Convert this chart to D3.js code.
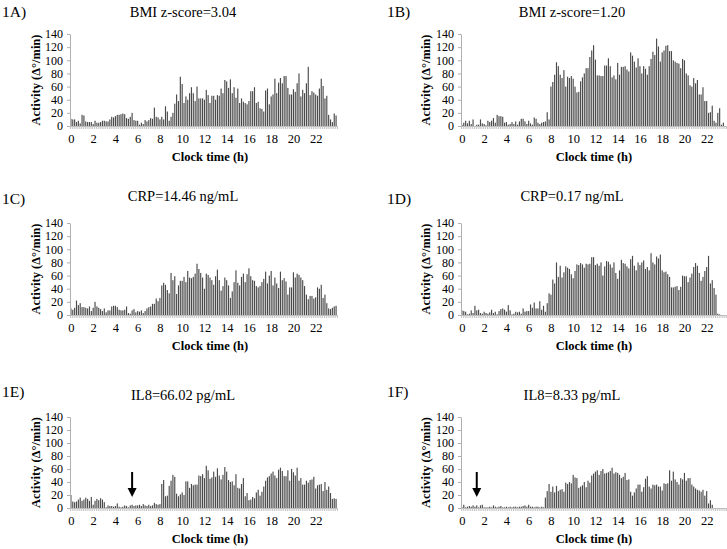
<!DOCTYPE html>
<html><head><meta charset="utf-8">
<script src="https://cdn.jsdelivr.net/npm/d3@7"></script>
<style>
html,body{margin:0;padding:0;background:#fff;}
svg{display:block;font-family:"Liberation Serif","Times New Roman",serif;}
</style></head>
<body>
<script>
// ---- data (10-minute bins, 144 per day) ----
const hourLabels = ["0","2","4","6","8","10","12","14","16","18","20","22"];
const yTicks = [0,20,40,60,80,100,120,140];
const panelLabels = ["1A)","1B)","1C)","1D)","1E)","1F)"];
const panelTitles = ["BMI z-score=3.04","BMI z-score=1.20","CRP=14.46 ng/mL","CRP=0.17 ng/mL","IL8=66.02 pg/mL","IL8=8.33 pg/mL"];
const yTitle = "Activity (\u0394\u00B0/min)";
const xTitle = "Clock time (h)";

const activityA = [
 11,10,10,6,8,4, 17,16,7,6,6,6, 3,8,5,5,6,8, 8,7,7,10,14,13,
 15,17,17,18,19,18, 12,11,14,20,9,8, 8,2,5,3,9,7, 9,12,11,28,14,13,
 10,14,10,30,22,8, 14,20,34,48,38,75, 64,35,45,40,50,59, 50,38,60,42,42,42,
 40,55,47,35,46,46, 40,47,46,57,50,70, 68,58,71,50,59,43, 57,35,42,37,35,33,
 38,53,53,59,35,37, 27,26,22,54,57,33, 45,48,72,50,66,73, 65,76,76,58,48,48,
 56,52,65,80,45,55, 50,65,90,47,53,51, 48,46,57,72,61,42, 46,17,10,6,19,16
];
const activityB = [
 2,5,8,4,8,3, 10,0,2,2,10,4, 3,1,8,6,8,12, 5,17,15,15,14,5,
 6,2,3,6,3,7, 2,7,11,11,7,3, 8,4,2,13,11,5, 3,5,6,7,21,10,
 60,67,78,97,91,78, 73,85,60,75,73,76, 72,60,51,52,68,74, 80,88,88,105,115,123,
 101,77,77,76,76,92, 92,103,91,74,77,71, 96,78,90,90,91,86, 83,112,107,98,89,103,
 91,80,91,87,78,91, 102,113,108,133,121,98, 112,115,122,123,114,114, 100,98,96,95,88,102,
 100,80,77,62,60,73, 65,70,48,48,59,38, 38,20,21,31,8,5, 20,27,2,5,0,0
];
const activityC = [
 10,8,11,22,15,18, 12,12,11,10,13,6, 11,20,13,11,9,6, 10,4,7,7,13,14,
 14,12,8,7,7,8, 13,3,2,7,9,4, 6,5,7,3,6,10, 12,13,17,17,25,21,
 26,45,49,46,38,33, 64,53,59,32,45,52, 52,58,50,67,57,56, 58,63,78,70,64,57,
 40,63,61,57,53,46, 59,69,53,37,44,57, 53,45,26,36,50,68, 49,45,58,63,50,62,
 71,59,53,52,44,42, 44,50,55,66,48,60, 67,45,57,48,41,66, 53,56,51,31,42,42,
 65,57,63,61,57,53, 44,31,24,29,29,25, 27,42,40,46,26,31, 18,10,9,11,13,14
];
const activityD = [
 7,6,5,1,2,7, 3,14,7,8,3,2, 5,3,2,4,8,3, 5,1,6,9,10,8,
 5,15,7,1,2,5, 4,5,2,10,5,6, 6,16,11,19,10,10, 21,8,14,5,18,33,
 31,54,48,80,58,75, 57,65,74,72,70,62, 56,67,77,76,79,77, 72,78,77,78,88,88,
 76,78,75,80,60,74, 82,81,77,72,80,64, 55,68,84,79,78,74, 71,85,90,75,68,80,
 76,80,83,70,73,68, 94,80,77,89,86,92, 68,65,66,62,58,42, 42,43,44,38,43,60,
 59,59,50,57,63,73, 79,75,64,52,58,67, 73,90,48,53,41,31, 2,1,0,0,0,0
];
const activityE = [
 20,10,9,10,13,16, 11,13,16,14,11,17, 5,11,14,12,15,13, 9,1,4,3,3,2,
 3,7,2,1,2,4, 3,1,4,5,3,4, 4,5,3,6,4,3, 5,3,4,8,6,5,
 6,37,43,18,19,34, 42,51,48,22,18,21, 24,20,41,41,31,37, 35,36,36,50,49,52,
 46,65,58,45,47,56, 48,61,50,44,51,63, 56,43,40,41,35,52, 31,30,37,46,18,23,
 12,13,17,15,24,28, 19,25,33,42,47,49, 53,56,50,46,59,62, 57,49,49,58,42,60,
 55,50,62,42,46,36, 36,42,39,43,44,48, 30,35,36,37,26,40, 28,33,23,14,15,14
];
const activityF = [
 1,5,1,2,3,2, 4,2,4,1,4,5, 1,1,1,2,1,4, 2,1,2,3,1,1,
 2,1,2,1,2,2, 1,2,2,3,4,2, 5,2,2,1,2,2, 1,2,1,16,26,37,
 25,33,24,34,26,28, 29,25,39,37,40,38, 51,47,46,31,33,35, 40,32,42,39,50,53,
 56,58,51,57,60,53, 54,55,57,62,53,55, 54,51,46,48,54,43, 44,25,19,24,30,36,
 36,25,32,45,49,33, 30,36,35,36,33,33, 27,38,37,38,58,42, 56,44,40,36,46,44,
 54,42,46,46,36,33, 30,28,27,25,28,19, 26,7,12,5,0,0, 0,0,0,0,0,0
];
const series = [activityA, activityB, activityC, activityD, activityE, activityF];
// bin index marked by an arrow (panels E and F only)
const arrowBins = [null, null, null, null, 33, 8];

// ---- layout ----
const W = 727, H = 549;
const colX0 = [70, 461], plotW = 267;
const rowY0 = [126, 315, 508], rowYTop = [34, 223, 417];
const labelBase = [17, 204, 397];
const titleBase = [17, 201, 400];
const titleCx = [183, 572];
const xTitleCx = [210, 594];
const yTitleCx = [36, 426];
const labelX = [2, 387];

const svg = d3.select("body").append("svg").attr("width", W).attr("height", H);
svg.append("rect").attr("width", W).attr("height", H).attr("fill", "#fff");

series.forEach((vals, p) => {
  const col = p % 2, row = Math.floor(p / 2);
  const x0 = colX0[col], y0 = rowY0[row], yT = rowYTop[row];
  const n = vals.length;
  const x = d3.scaleLinear().domain([0, n]).range([x0, x0 + plotW]);
  const y = d3.scaleLinear().domain([0, 140]).range([y0, yT]);
  const g = svg.append("g");
  const step = plotW / n, bw = step * 0.62;

  // bars
  g.append("g").selectAll("rect").data(vals).join("rect")
    .attr("x", (d, i) => x(i + 0.5) - bw / 2)
    .attr("y", d => y(d))
    .attr("width", bw)
    .attr("height", d => y(0) - y(d))
    .attr("fill", "#4a4a4a");

  // y axis
  const ya = g.append("g").attr("transform", `translate(${x0},0)`)
    .call(d3.axisLeft(y).tickValues(yTicks).tickSize(3).tickPadding(4).tickSizeOuter(0));
  ya.select(".domain").attr("stroke", "#b0b0b0");
  ya.selectAll(".tick line").attr("stroke", "#b0b0b0");
  ya.selectAll("text").attr("font-size", "12px").attr("fill", "#000")
    .attr("font-family", "'Liberation Serif','Times New Roman',serif");

  // x axis: minor category ticks
  const xm = g.append("g").attr("transform", `translate(0,${y0})`)
    .call(d3.axisBottom(x).tickValues(d3.range(0, n + 1)).tickSize(3).tickFormat("").tickSizeOuter(0));
  xm.select(".domain").attr("stroke", "#b8b8b8");
  xm.selectAll(".tick line").attr("stroke", "#c4c4c4");

  // x axis: hour labels
  const xl = g.append("g").attr("transform", `translate(0,${y0})`)
    .call(d3.axisBottom(x).tickValues(hourLabels.map((h, k) => k * 12 + 0.5))
      .tickFormat((d, k) => hourLabels[k]).tickSize(0).tickPadding(8));
  xl.select(".domain").remove();
  xl.selectAll("text").attr("font-size", "12.5px").attr("fill", "#000")
    .attr("font-family", "'Liberation Serif','Times New Roman',serif");

  // axis titles
  g.append("text").attr("x", xTitleCx[col]).attr("y", y0 + 35)
    .attr("text-anchor", "middle").attr("font-weight", "bold").attr("font-size", "12.5px")
    .text(xTitle);
  g.append("text")
    .attr("transform", `translate(${yTitleCx[col] + 4},${(y0 + yT) / 2}) rotate(-90)`)
    .attr("text-anchor", "middle").attr("font-weight", "bold").attr("font-size", "12.5px")
    .text(yTitle);

  // panel label & title
  g.append("text").attr("x", labelX[col]).attr("y", labelBase[row])
    .attr("font-size", "15.5px").text(panelLabels[p]);
  g.append("text").attr("x", titleCx[col]).attr("y", titleBase[row])
    .attr("text-anchor", "middle").attr("font-size", "14.5px").text(panelTitles[p]);

  // arrow annotation
  if (arrowBins[p] !== null) {
    const ax = x(arrowBins[p] + 0.5);
    const top = y0 - 36, tip = y0 - 11;
    g.append("line").attr("x1", ax).attr("x2", ax).attr("y1", top).attr("y2", tip - 8)
      .attr("stroke", "#000").attr("stroke-width", 2);
    g.append("path")
      .attr("d", `M${ax - 4.5},${tip - 9} L${ax + 4.5},${tip - 9} L${ax},${tip} Z`)
      .attr("fill", "#000");
  }
});
</script>
</body></html>
